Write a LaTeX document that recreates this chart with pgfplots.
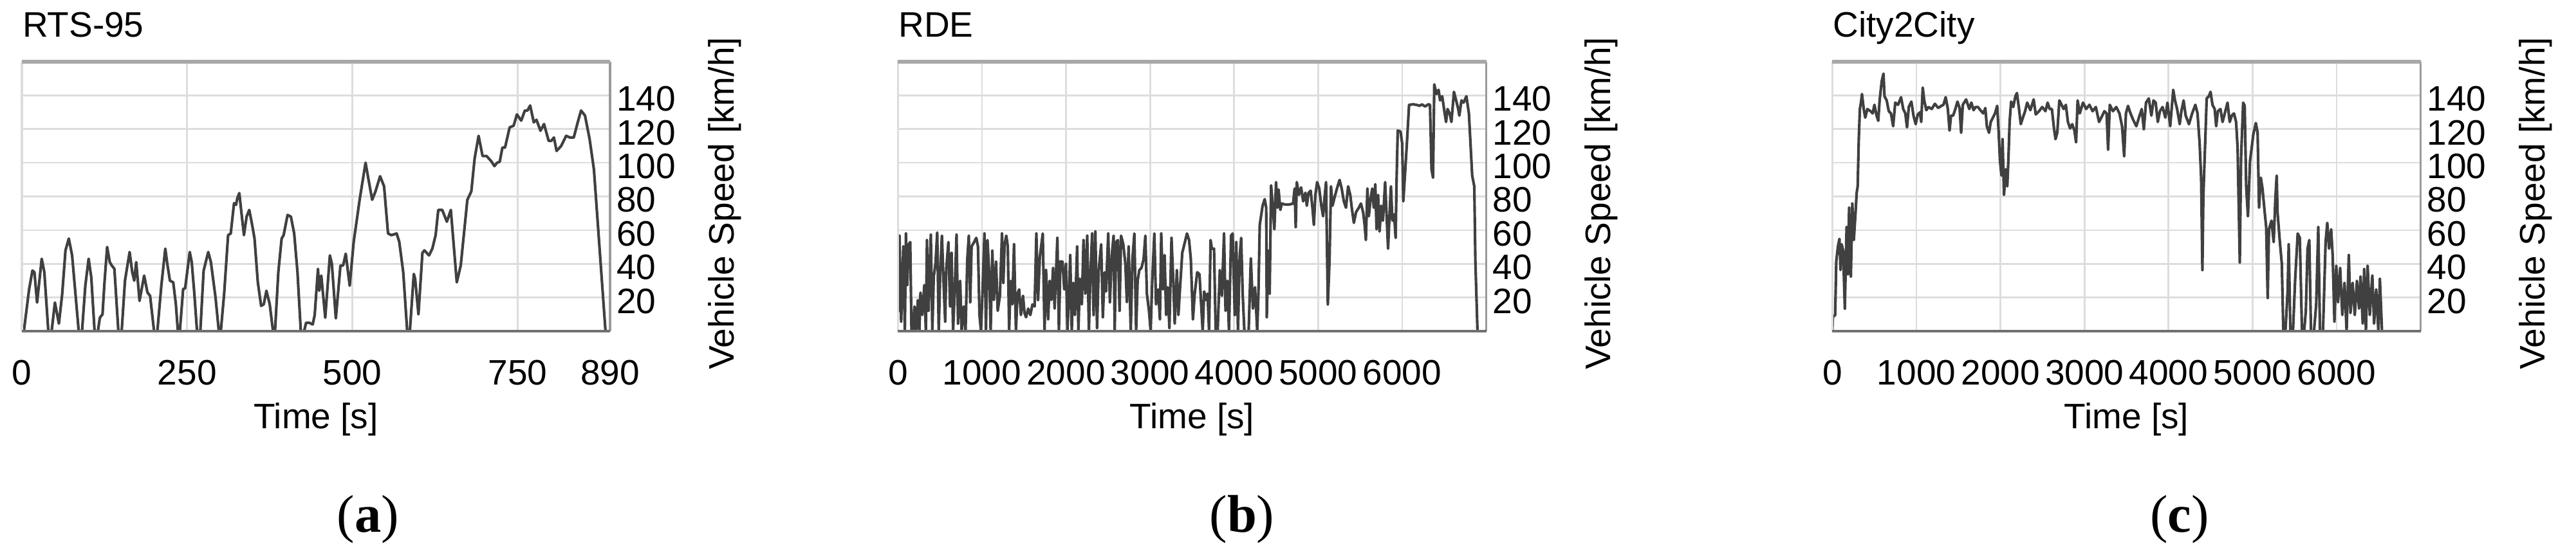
\documentclass[border=0pt]{standalone}
\usepackage{fontspec}
\setmainfont{Liberation Sans}
\newfontfamily\capfont{Liberation Serif}
\usepackage{pgfplots}
\pgfplotsset{compat=1.18}

\definecolor{gridgray}{HTML}{DDDDDD}
\definecolor{linegray}{HTML}{404040}
\definecolor{topgray}{HTML}{A8A8A8}
\definecolor{botgray}{HTML}{707070}
\definecolor{sidegray}{HTML}{9A9A9A}

\pgfplotsset{
  panel/.style={
    scale only axis, width=166.2pt, height=76.2pt,
    font=\fontsize{10}{12}\selectfont,
    ymin=0, ymax=160, ytick={20,40,...,140},
    yticklabel pos=right,
    grid=major, major grid style={draw=gridgray, line width=0.5pt},
    major tick length=0pt,
    axis line style={draw=none},
    /pgf/number format/assume math mode=true,
    /pgf/number format/1000 sep={},
    title style={at={(axis description cs:0,1)}, anchor=base west, inner sep=0pt, yshift=1pt},
    xticklabel style={anchor=north, inner sep=0pt, yshift=-8pt},
    yticklabel style={anchor=west, inner sep=0pt, xshift=1.6pt, yshift=-1pt},
    xlabel={Time [s]}, ylabel={Vehicle Speed [km/h]},
    xlabel style={at={(axis description cs:0.5,0)}, anchor=base, inner sep=0pt, yshift=-27.6pt},
    ylabel style={at={(axis description cs:1.211,0.474)}, anchor=base, inner sep=0pt},
    extra description/.code={
      \draw[gridgray, line width=0.6pt] (0,0) -- (0,1);
      \draw[sidegray, line width=0.6pt] (1,0) -- (1,1);
      \draw[topgray, line width=1pt] (0,1) -- (1,1);
      \draw[botgray, line width=0.8pt] (0,0) -- (1,0);
    },
  },
  speed/.style={linegray, line width=0.75pt, line join=round, mark=none},
}

\begin{document}
\begin{tikzpicture}
\path[use as bounding box] (0,0) rectangle (727.8pt,156.2pt);

% (a) RTS-95
\begin{axis}[panel, at={(6.18pt,62.56pt)}, anchor=south west,
  title={RTS-95}, xmin=0, xmax=890, xtick={0,250,500,750,890}]
\addplot[speed] coordinates {
(0,0)(3,0)(11,25)(16,36)(19,35)(23,17)(30,43)(34,35)(40,0)(45,0)(50,17)(56,4.5)(61,22)(66,48)(71,55)(76,45)(86,0)(91,0)
(96,27)(101,43)(105,32)(110,0)(115,0)(118,8)(122,10)(125,29)(129,50)(133,41)(136,39)(140,37)(146,0)(151,0)(156,30)(163,47)
(167,35)(170,30)(173,41)(178,18)(185,33)(190,23)(194,21)(200,0)(205,0)(211,27)(217,49)(220,40)(224,30)(229,29)(233,16)
(236,0)(239,0)(244,25)(247,25.5)(254,47)(257,41)(261,22)(265,0)(270,0)(275,36)(282,47)(286,41)(293,20)(298,0)(301,0)
(306,22)(312,57)(316,58)(321,76)(324,75)(326,79)(329,82)(332,71)(336,57)(340,68)(344,72)(348,64)(352,55)(357,29)(362,15)
(366,16)(370,24)(375,16)(380,0)(383,0)(388,35)(393,55)(396,57)(402,69)(407,68)(412,58)(417,35)(422,0)(427,0)(430,5)
(435,5)(440,4)(443,9.5)(448,37)(450,24)(453,33)(459,8)(466,45)(469,40)(475,7.6)(482,39)(486,39)(490,46)(496,27)(502,53)
(506,64)(511,78)(520,100)(524,91)(530,78)(535,83)(542,92)(548,86)(554,58)(559,57)(567,58)(571,53)(577,35)(583,0)(587,0)
(593,34)(595,31)(600,10)(606,46.5)(609,48)(616,45)(621,49)(626,57)(630,72)(636,72)(643,65)(649,72)(658,29)(664,39)
(674,78)(680,83)(685,102.5)(691,116)(697,104)(703,104)(710,101)(715,98)(719,100)(723,100.6)(727,109)(731,109)(738,121)
(744,122)(749,128.7)(755.5,125)(761,131)(765,131)(769,134)(774.5,124)(778.6,125.5)(784.6,119)(790,123)(797,113)(801,113)
(805,115)(809,107)(816,110)(823.5,116)(829,115)(835,115)(841,124)(846,131)(852,128)(859,114)(865.5,96)(883,0)(887,0)
};
\end{axis}

% (b) RDE
\begin{axis}[panel, at={(253.7pt,62.56pt)}, anchor=south west,
  title={RDE}, xmin=0, xmax=7000, xtick={0,1000,...,6000}]
\addplot[speed] coordinates {
(0,10.8)(18,56.7)(38,5.7)(64,50.3)(82,0)(95,58)(110,27.4)(128,51.6)(146,52.9)(161,0)(179,0)(197,14.7)(217,0)(237,18.5)
(255,0)(268,22.9)(289,9.6)(314,27.4)(332,0)(345,54.1)(363,12.1)(391,57.3)(409,0)(426,32.5)(447,40.1)(467,58.6)(485,0)
(503,35)(523,56.7)(544,27.4)(562,5.7)(574,36.3)(600,52.9)(620,14.7)(638,46.5)(656,0)(677,26.1)(697,57.3)(715,4.5)
(740,29.9)(758,0)(784,14.7)(804,0)(825,42.7)(843,56.7)(860,17.2)(876,50.3)(906,52.9)(932,55.4)(952,50.3)(970,9.6)
(988,0)(1008,26.1)(1029,58)(1047,0)(1065,54.1)(1085,35)(1103,0)(1123,47.8)(1141,18.5)(1167,41.4)(1187,12.1)(1213,21)
(1238,58)(1254,28.7)(1269,51.6)(1289,56.7)(1307,50.3)(1323,0)(1340,29.9)(1361,15.9)(1381,51.6)(1404,0)(1422,22.3)
(1442,24.8)(1463,9.6)(1488,21)(1506,10.8)(1524,8.3)(1550,13.4)(1575,9.6)(1601,15.9)(1626,14.7)(1647,58)(1667,18.5)
(1688,44)(1723,58)(1744,0)(1762,36.3)(1787,7)(1805,29.9)(1825,18.5)(1846,37.6)(1864,13.4)(1877,29.9)(1897,55.4)(1915,0)
(1933,41.4)(1958,41.4)(1979,24.8)(1999,40.1)(2017,0)(2035,22.3)(2050,45.2)(2068,0)(2086,28.7)(2106,9.6)(2132,50.3)
(2147,0)(2165,31.2)(2188,15.9)(2208,54.1)(2229,22.3)(2252,56.7)(2272,0)(2290,33.8)(2311,58)(2328,9.6)(2349,59.2)
(2369,1.9)(2387,35)(2418,51.6)(2438,8.3)(2459,35)(2476,23.6)(2502,58)(2522,17.2)(2545,45.2)(2566,56.7)(2579,0)(2596,52.9)
(2617,54.1)(2637,12.1)(2655,56.7)(2681,51.6)(2706,40.1)(2724,17.2)(2745,50.3)(2770,0)(2790,42.7)(2813,58)(2834,0)
(2852,29.9)(2872,36.3)(2898,37.6)(2923,42.7)(2944,56.7)(2962,22.3)(2987,12.1)(3007,0)(3025,28.7)(3051,58)(3071,15.9)
(3097,24.8)(3117,7)(3133,58)(3153,24.8)(3173,45.2)(3191,9.6)(3209,26.1)(3230,1.9)(3255,55.4)(3276,29.9)(3293,4.5)
(3319,36.3)(3337,9.6)(3357,26.1)(3383,46.5)(3408,51.6)(3439,58)(3464,54.1)(3485,42.7)(3510,7)(3531,22.3)(3561,35)
(3588,33.8)(3608,15.9)(3626,0)(3644,23.6)(3664,18.5)(3684,22.3)(3702,0)(3720,54.1)(3735,49)(3761,49)(3781,0)(3804,0)
(3830,36.3)(3855,21)(3880,58)(3898,12.1)(3919,29.9)(3939,0)(3964,56.7)(3982,58)(4008,9.6)(4026,52.9)(4046,0)(4066,44)
(4084,55.4)(4102,22.3)(4122,0)(4173,0)(4199,43.3)(4224,13.4)(4249,26.1)(4275,0)(4290,23.6)(4305,63.1)(4339,74.5)
(4364,78.4)(4382,73.3)(4389,8.3)(4407,47.8)(4423,22.3)(4440,86.6)(4458,75.8)(4479,60.5)(4499,88.5)(4517,73.3)(4529,84.1)
(4550,72)(4568,75.8)(4606,75.2)(4657,75.2)(4702,75.8)(4720,84.7)(4733,61.8)(4746,88.5)(4771,80.9)(4797,85.4)(4822,77.1)
(4848,82.2)(4865,74.5)(4886,82.2)(4911,83.4)(4932,73.3)(4949,63.1)(4967,80.9)(4988,88.5)(5013,84.7)(5038,74.5)(5059,68.2)
(5077,79.6)(5094,88.5)(5115,15.9)(5135,41.4)(5153,86)(5171,74.5)(5196,79.6)(5224,84.7)(5255,89.8)(5280,84.7)(5306,77.1)
(5331,73.3)(5357,86)(5382,80.9)(5400,73.3)(5425,64.3)(5451,70.7)(5484,73.3)(5509,75.8)(5535,70.7)(5553,63.1)(5568,54.1)
(5586,84.7)(5603,68.2)(5624,78.4)(5644,84.7)(5662,73.3)(5680,87.3)(5695,60.5)(5713,80.9)(5731,59.2)(5751,74.5)(5771,65.6)
(5797,88.5)(5815,68.2)(5832,49)(5853,73.3)(5866,86)(5883,65.6)(5904,69.4)(5922,55.4)(5934,91.1)(5947,119.1)(5980,118.5)
(6000,111.5)(6013,77.1)(6031,91.1)(6056,111.5)(6082,134.4)(6133,134.7)(6184,134.2)(6209,133.8)(6235,134.7)(6273,133.4)
(6311,134.7)(6331,134.4)(6349,96.2)(6367,91.1)(6382,146.5)(6408,140.8)(6433,143.3)(6451,137)(6476,139.5)(6502,130.6)
(6522,124.2)(6540,131.9)(6565,129.3)(6586,124.2)(6616,142.1)(6642,137)(6667,131.9)(6680,128)(6705,137)(6731,135.7)
(6764,139.5)(6794,129.3)(6833,92.4)(6858,86)(6871,41.4)(6896,0)
};
\end{axis}

% (c) City2City
\begin{axis}[panel, at={(517.7pt,62.56pt)}, anchor=south west,
  title={City2City}, xmin=0, xmax=7000, xtick={0,1000,...,6000}]
\addplot[speed] coordinates {
(0,0)(5,8.3)(33,9.6)(46,41.4)(66,50.3)(84,54.8)(97,36.3)(110,51.6)(128,47.8)(148,13.4)(169,61.8)(186,33.8)(199,73.3)
(220,32.5)(237,75.8)(255,54.1)(276,70.7)(289,82.2)(301,86)(314,114)(327,131.9)(340,135.7)(352,140.8)(373,131.9)
(391,126.8)(416,131.9)(454,130.6)(480,129.3)(500,134.4)(526,128)(546,124.9)(562,137)(587,148.4)(608,152.9)(620,139.5)
(646,137)(671,130.6)(697,129.3)(723,121.7)(748,135.7)(781,134.4)(817,138.9)(843,131.9)(868,129.3)(888,121)(909,133.1)
(940,136.3)(965,128)(991,122.9)(1016,128.7)(1042,129.9)(1057,124.2)(1075,144.6)(1093,137)(1118,131.2)(1144,133.1)
(1182,131.9)(1220,135)(1259,132.5)(1297,133.8)(1322,134.4)(1348,138.9)(1374,131.9)(1394,119.1)(1412,128)(1437,128)
(1463,131.9)(1488,136.3)(1514,132.5)(1532,117.8)(1552,134.4)(1591,137.6)(1629,131.9)(1654,135.7)(1680,131.2)(1705,133.1)
(1731,133.1)(1762,131.2)(1795,129.3)(1820,132.5)(1838,121.7)(1864,117.8)(1884,124.2)(1910,126.8)(1935,129.3)(1961,133.8)
(1979,117.8)(1994,101.3)(2012,92.4)(2025,114)(2042,80.9)(2063,96.2)(2081,86)(2094,101.3)(2109,124.2)(2127,136.3)
(2152,133.1)(2178,139.5)(2196,141.4)(2221,131.9)(2242,122.9)(2267,126.8)(2293,130.6)(2318,135.7)(2356,131.2)(2395,137.6)
(2420,128.7)(2459,130.6)(2497,133.1)(2535,130.6)(2561,135.7)(2586,131.9)(2612,131.9)(2637,120.4)(2655,114)(2676,117.8)
(2701,137)(2727,134.4)(2752,131.9)(2778,134.4)(2803,124.2)(2829,120.4)(2854,122.9)(2880,119.1)(2900,112.1)(2918,137)
(2944,129.3)(2982,135.7)(3020,131.9)(3059,134.4)(3097,130.6)(3135,133.1)(3173,124.2)(3212,128)(3237,130.6)(3263,129.3)
(3281,107.7)(3301,134.4)(3339,130.6)(3378,133.1)(3416,129.3)(3447,121.7)(3472,103.8)(3493,129.3)(3518,133.8)(3543,129.9)
(3579,125.5)(3617,121.7)(3655,128)(3681,131.9)(3706,119.8)(3732,135.7)(3765,138.2)(3796,128)(3821,137)(3847,135.7)
(3872,124.2)(3898,130.6)(3929,133.1)(3962,126.8)(3987,135.7)(4020,121.7)(4056,143.3)(4077,137)(4102,131.9)(4133,122.9)
(4153,130.6)(4179,137)(4204,128)(4243,122.9)(4281,129.3)(4319,134.4)(4345,129.3)(4370,111.5)(4388,91.1)(4403,36.3)
(4414,79.6)(4434,108.9)(4454,138.2)(4480,139.5)(4500,142.1)(4523,134.4)(4549,131.9)(4567,121.7)(4587,130.6)(4618,131.9)
(4643,124.2)(4669,129.3)(4702,135.7)(4728,124.2)(4753,128)(4779,129.3)(4804,124.2)(4822,108.9)(4848,40.8)(4863,102.6)
(4888,135.7)(4906,133.8)(4924,86)(4945,68.2)(4970,101.3)(4996,111.5)(5008,116.6)(5039,123.6)(5060,117.8)(5077,73.3)
(5098,91.1)(5118,84.7)(5144,70.7)(5162,61.8)(5180,19.7)(5195,60.5)(5225,65.6)(5251,52.9)(5271,78.4)(5287,92.4)(5297,70.7)
(5323,54.1)(5348,40.1)(5366,0)(5391,0)(5417,23.6)(5430,51.6)(5450,0)(5481,0)(5506,29.9)(5537,58)(5562,55.4)(5588,0)
(5614,0)(5634,12.1)(5654,49)(5675,54.1)(5695,0)(5731,0)(5757,15.9)(5782,61.8)(5802,0)(5838,0)(5869,52.9)(5889,64.3)
(5910,49)(5935,60.5)(5953,45.2)(5974,5.7)(5996,38.9)(6017,17.2)(6042,37.6)(6068,9.6)(6094,28.7)(6119,0)(6145,45.2)
(6165,10.8)(6191,28.7)(6216,9.6)(6242,29.9)(6267,13.4)(6285,32.5)(6311,4.5)(6328,36.9)(6349,0)(6369,38.9)(6395,9.6)
(6425,33.1)(6446,4.5)(6471,24.8)(6497,0)(6515,31.2)(6540,0)
};
\end{axis}

\node[anchor=base, font=\capfont\fontsize{15}{18}\selectfont] at (104pt,5.7pt) {(\textbf{a})};
\node[anchor=base, font=\capfont\fontsize{15}{18}\selectfont] at (350.9pt,5.7pt) {(\textbf{b})};
\node[anchor=base, font=\capfont\fontsize{15}{18}\selectfont] at (615.8pt,5.7pt) {(\textbf{c})};
\end{tikzpicture}
\end{document}
